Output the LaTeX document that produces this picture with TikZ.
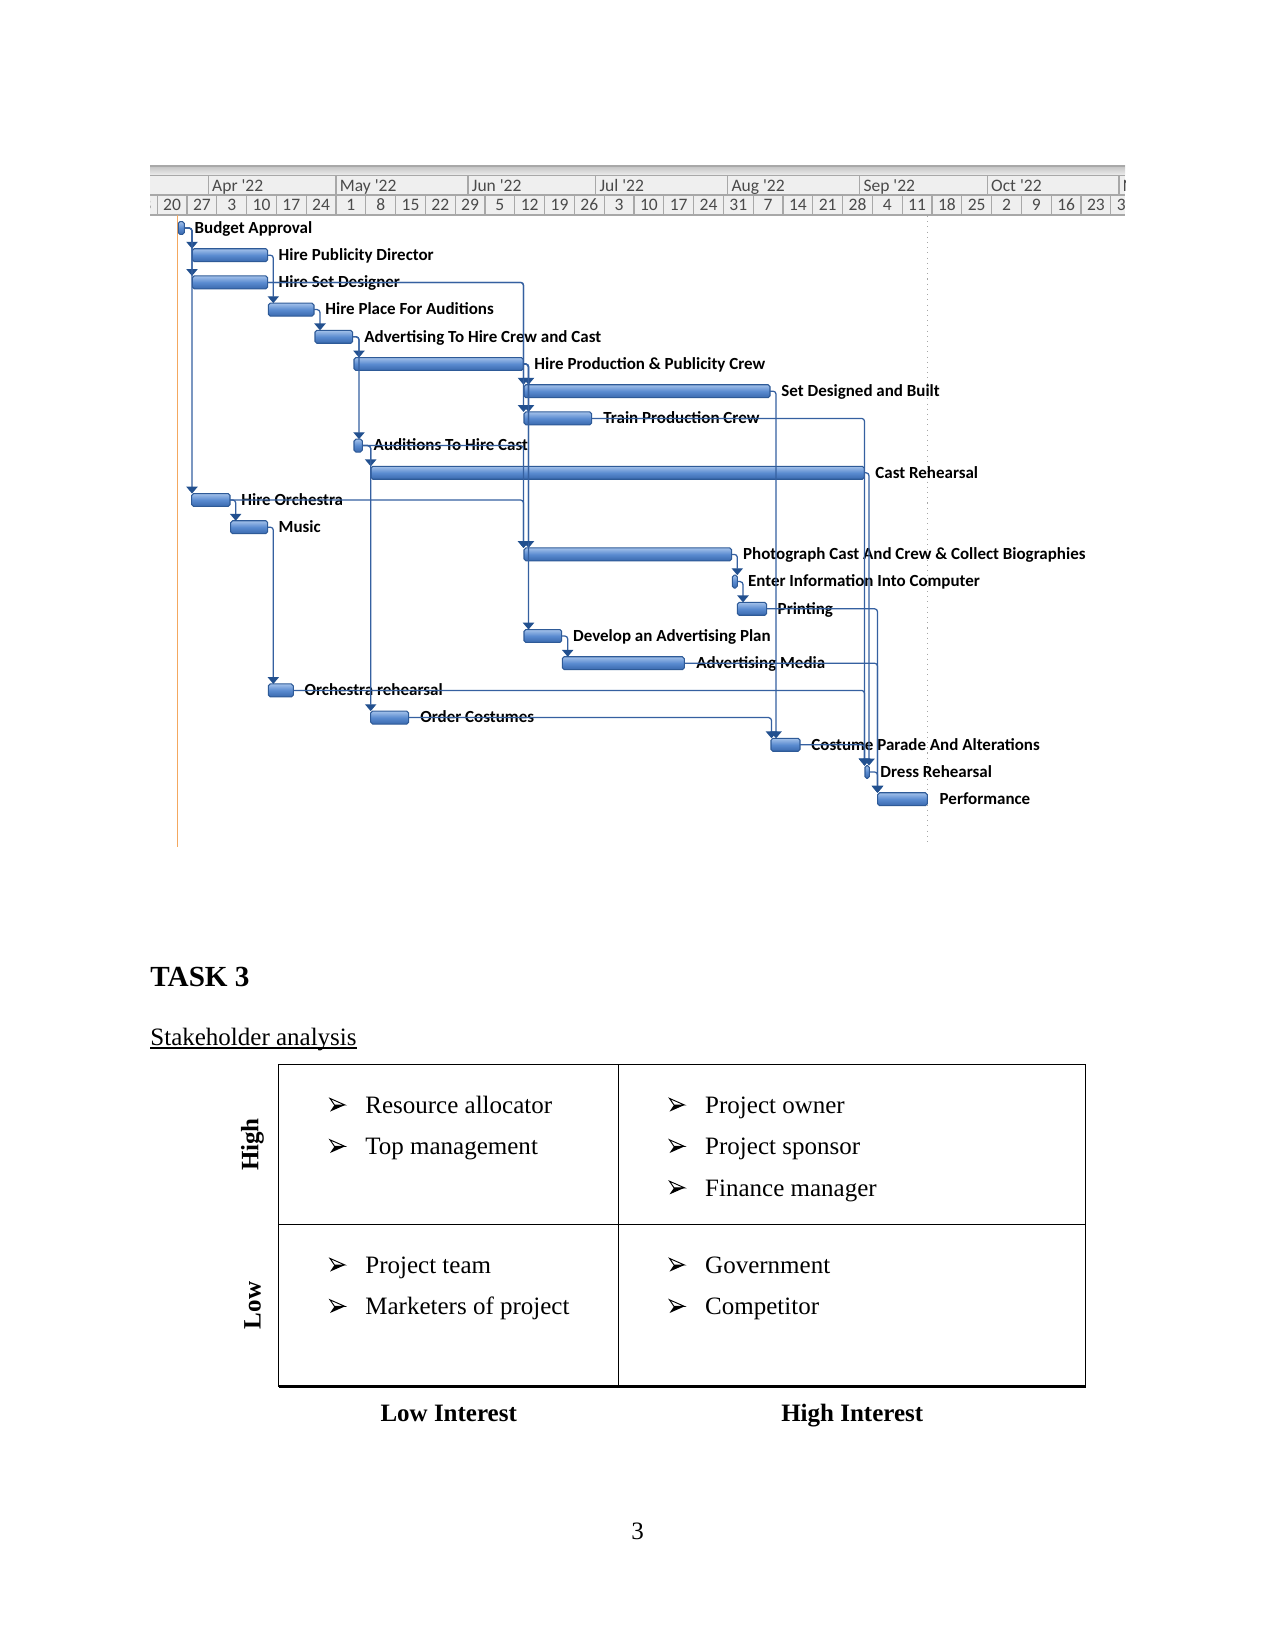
\documentclass[tikz,border=0pt]{standalone}
\usepackage{fontspec}
\setmainfont{Liberation Serif}
\newfontfamily\calib{Carlito}
\usetikzlibrary{arrows.meta,calc}
\definecolor{barEdge}{HTML}{2E5A97}
\definecolor{barTop}{HTML}{A3C1EA}
\definecolor{barMid}{HTML}{5A8BD0}
\definecolor{barBot}{HTML}{3A69AE}
\definecolor{linkc}{HTML}{3560A0}
\definecolor{arrowc}{HTML}{22508F}
\definecolor{orangec}{HTML}{F4A860}
\definecolor{hdrfill}{HTML}{EFEFEF}
\definecolor{hdrline}{HTML}{A8A8A8}
\definecolor{hdrtext}{HTML}{4A4A4A}
\newcommand{\gbar}[4]{\node[gbarst, minimum width={(#4-#3)*0.48pt}, anchor=west] (#1) at (#3,{228+27.2*#2}) {};}
\newcommand{\glab}[4]{\node[tlabel] (#1) at (#3,{228+27.2*#2+5.3}) {#4};}
\newcommand{\glink}[3]{\draw[linkst] (#1.east) -| (#3,0 |- #2.north);}
\newcommand{\bul}[3]{%
  \coordinate (#1) at (#2,#3);
  \draw[line width=0.45pt, fill=white] ($(#1)+(7.5,0)$) -- ($(#1)+(-7.5,-6.6)$) -- ($(#1)+(-3,0)$) -- cycle;
  \fill ($(#1)+(7.5,0)$) -- ($(#1)+(-3,0)$) -- ($(#1)+(-7.5,6.6)$) -- cycle;}
\begin{document}
\begin{tikzpicture}[x=0.48pt,y=-0.48pt,
  gbarst/.style={draw=barEdge, line width=0.5pt, top color=barTop, bottom color=barBot, middle color=barMid, rounded corners=0.9pt, inner sep=0pt, outer sep=0pt, minimum height={12.9*0.48pt}},
  tlabel/.style={font=\calib\bfseries\fontsize{8.15}{9}\selectfont, anchor=base west, inner sep=0pt},
  hdrt/.style={font=\calib\fontsize{8.4}{9}\selectfont, text=hdrtext, inner sep=0pt},
  linkst/.style={draw=linkc, line width=0.6pt, rounded corners=1.4pt, -{Triangle[width=5.4pt,length=3.3pt,color=arrowc]}},
  hline/.style={draw=hdrline, line width=0.5pt},
  serif12/.style={font=\fontsize{12}{14}\selectfont, inner sep=0pt},
  serif12b/.style={font=\bfseries\fontsize{12}{14}\selectfont, inner sep=0pt},
  tab/.style={line width=0.5pt}]
\useasboundingbox (0,0) rectangle (1275,1650);
\fill[white] (0,0) rectangle (1275,1650);
% ---------- header ----------
\begin{scope}
\clip (150,160) rectangle (1125,216);
\fill[hdrfill] (150,166) rectangle (1125,215);
\shade[top color=hdrline!70, bottom color=hdrfill] (150,166) rectangle (1125,175.5);
\draw[hline, line width=0.8pt] (150,166.3) -- (1125,166.3);
\draw[hline] (150,175.5) -- (1125,175.5);
\draw[hline] (150,195) -- (1125,195);
\draw[hline] (150,215) -- (1125,215);
\foreach \x/\m [count=\i] in {208.3/Apr,336/May,468/Jun,595.7/Jul,727.6/Aug,859.6/Sep,987.3/Oct,1119/Nov}{
  \draw[hline] (\x,175.5) -- (\x,195);
  \node[hdrt, anchor=base west] (m\i) at (\x+3.5,191.5) {\m\ \textquotesingle 22};
}
\foreach \d [count=\k from 0] in {13,20,27,3,10,17,24,1,8,15,22,29,5,12,19,26,3,10,17,24,31,7,14,21,28,4,11,18,25,2,9,16,23,30}{
  \pgfmathsetmacro\xs{127.4+29.8*\k}
  \draw[hline] (\xs,195) -- (\xs,215);
  \node[hdrt, anchor=base] (d\k) at (\xs+14.9,210.8) {\d};
}
\end{scope}
% ---------- guide lines ----------
\coordinate (og1) at (177.7,215.5);
\coordinate (og2) at (177.7,847);
\draw[orangec, line width=0.6pt] (og1) -- (og2);
\coordinate (dg1) at (927.3,216);
\coordinate (dg2) at (927.3,845);
\draw[gray!70, line width=0.5pt, dotted] (dg1) -- (dg2);
% ---------- bars ----------
\gbar{b0}{0}{178.3}{184.3}
\gbar{b1}{1}{192.3}{267.7}
\gbar{b2}{2}{192.3}{267.7}
\gbar{b3}{3}{268.3}{314}
\gbar{b4}{4}{315}{352.7}
\gbar{b5}{5}{354}{523.3}
\gbar{b6}{6}{524}{770}
\gbar{b7}{7}{524}{591.7}
\gbar{b8}{8}{354}{362.3}
\gbar{b9}{9}{371}{864.3}
\gbar{b10}{10}{191.7}{230}
\gbar{b11}{11}{230.7}{267.7}
\gbar{b12}{12}{524}{731.7}
\gbar{b13}{13}{732.3}{737.3}
\gbar{b14}{14}{737.3}{766.7}
\gbar{b15}{15}{524}{561.7}
\gbar{b16}{16}{562.3}{684.3}
\gbar{b17}{17}{268.3}{293.3}
\gbar{b18}{18}{370.7}{408.7}
\gbar{b19}{19}{771}{800}
\gbar{b20}{20}{865}{869.3}
\gbar{b21}{21}{877.7}{927.3}
% ---------- labels ----------
\glab{t0}{0}{194.3}{Budget Approval}
\glab{t1}{1}{278.3}{Hire Publicity Director}
\glab{t2}{2}{278.3}{Hire Set Designer}
\glab{t3}{3}{325}{Hire Place For Auditions}
\glab{t4}{4}{364}{Advertising To Hire Crew and Cast}
\glab{t5}{5}{534}{Hire Production \& Publicity Crew}
\glab{t6}{6}{781}{Set Designed and Built}
\glab{t7}{7}{603}{Train Production Crew}
\glab{t8}{8}{373.3}{Auditions To Hire Cast}
\glab{t9}{9}{875}{Cast Rehearsal}
\glab{t10}{10}{241}{Hire Orchestra}
\glab{t11}{11}{278.3}{Music}
\glab{t12}{12}{742.7}{Photograph Cast And Crew \& Collect Biographies}
\glab{t13}{13}{747.7}{Enter Information Into Computer}
\glab{t14}{14}{777.3}{Printing}
\glab{t15}{15}{572.7}{Develop an Advertising Plan}
\glab{t16}{16}{696}{Advertising Media}
\glab{t17}{17}{304.3}{Orchestra rehearsal}
\glab{t18}{18}{420}{Order Costumes}
\glab{t19}{19}{811}{Costume Parade And Alterations}
\glab{t20}{20}{880}{Dress Rehearsal}
\glab{t21}{21}{939.3}{Performance}
% ---------- links ----------
\glink{b0}{b1}{192}
\glink{b0}{b2}{192}
\glink{b0}{b10}{192}
\glink{b1}{b3}{273.3}
\glink{b2}{b6}{523.5}
\glink{b2}{b7}{523.5}
\glink{b3}{b4}{320}
\glink{b4}{b5}{359}
\glink{b4}{b8}{359}
\glink{b5}{b6}{528.5}
\glink{b5}{b7}{528.5}
\glink{b5}{b12}{528.5}
\glink{b5}{b15}{528.5}
\glink{b8}{b9}{370.7}
\glink{b8}{b18}{370.7}
\glink{b8}{b12}{523.5}
\glink{b10}{b11}{235.7}
\glink{b10}{b12}{523.5}
\glink{b11}{b17}{273.3}
\glink{b6}{b19}{776}
\glink{b18}{b19}{771.5}
\glink{b7}{b20}{864.5}
\glink{b17}{b20}{864.5}
\glink{b19}{b20}{864.5}
\glink{b9}{b20}{869}
\glink{b12}{b13}{737.3}
\glink{b13}{b14}{743}
\glink{b15}{b16}{567.7}
\glink{b14}{b21}{877.5}
\glink{b16}{b21}{877.5}
\glink{b20}{b21}{877.5}
% ---------- Task 3 ----------
\node[font=\bfseries\fontsize{14}{16}\selectfont, anchor=base west, inner sep=0pt] (task) at (150,986) {TASK 3};
\node[serif12, anchor=base west] (sa) at (150,1045) {Stakeholder analysis};
\draw[line width=0.55pt] ($(sa.base west)+(0,3)$) -- ($(sa.base east)+(0,3)$);
% table
\coordinate (tl) at (278.8,1064.6);
\coordinate (tm) at (618.6,1064.6);
\coordinate (tr) at (1085.7,1064.6);
\coordinate (ml) at (278.8,1224.5);
\coordinate (mr) at (1085.7,1224.5);
\coordinate (bl) at (278.8,1386.5);
\coordinate (bm) at (618.6,1386.5);
\coordinate (br) at (1085.7,1386.5);
\draw[tab] (bl) -- (tl) -- (tr) -- (br);
\draw[tab] (ml) -- (mr);
\draw[tab] (tm) -- (bm);
\draw[line width=1.2pt] (bl) -- (br);
% items
\bul{u1}{337.5}{1105}\node[serif12, anchor=base west] (i1) at (365,1113.4) {Resource allocator};
\bul{u2}{337.5}{1146.4}\node[serif12, anchor=base west] (i2) at (365,1154.8) {Top management};
\bul{u3}{677}{1105}\node[serif12, anchor=base west] (i3) at (704.8,1113.4) {Project owner};
\bul{u4}{677}{1146.4}\node[serif12, anchor=base west] (i4) at (704.8,1154.8) {Project sponsor};
\bul{u5}{677}{1187.8}\node[serif12, anchor=base west] (i5) at (704.8,1196.2) {Finance manager};
\bul{u6}{337.5}{1265}\node[serif12, anchor=base west] (i6) at (365,1273.4) {Project team};
\bul{u7}{337.5}{1306.4}\node[serif12, anchor=base west] (i7) at (365,1314.8) {Marketers of project};
\bul{u8}{677}{1265}\node[serif12, anchor=base west] (i8) at (704.8,1273.4) {Government};
\bul{u9}{677}{1306.4}\node[serif12, anchor=base west] (i9) at (704.8,1314.8) {Competitor};
% axis labels
\node[serif12b, rotate=90] (hi) at (252.5,1144.5) {High};
\node[serif12b, rotate=90] (lo) at (252.5,1305.5) {Low};
\node[serif12b, anchor=base] (li) at (448.7,1421) {Low Interest};
\node[serif12b, anchor=base] (hin) at (852.2,1421) {High Interest};
\node[serif12, anchor=base] (pg) at (637.5,1539) {3};
\end{tikzpicture}
\end{document}
